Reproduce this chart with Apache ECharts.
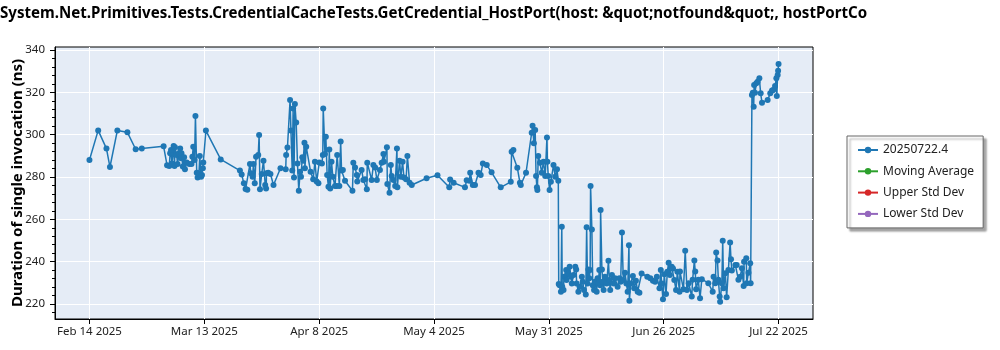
<!DOCTYPE html>
<html>
<head>
<meta charset="utf-8">
<script src="https://cdn.jsdelivr.net/npm/echarts@6/dist/echarts.min.js"></script>
<style>
  html, body { margin: 0; padding: 0; background: #fff; }
  #chart { width: 1000px; height: 350px; }
</style>
</head>
<body>
<div id="chart"></div>
<script>
// ---- data (days since Feb 14 2025, duration in ns) ----
const chartTitle = 'System.Net.Primitives.Tests.CredentialCacheTests.GetCredential_HostPort(host: &quot;notfound&quot;, hostPortCo';
const yAxisTitle = 'Duration of single invocation (ns)';
const seriesNames = ['20250722.4', 'Moving Average', 'Upper Std Dev', 'Lower Std Dev'];

const runDay = [
  0, 2.0, 3.9, 4.7, 6.4, 8.7, 10.6, 12.0, 17.0, 17.8,
  18.3, 18.5, 18.7, 18.9, 19.3, 19.5, 19.6, 20.0, 20.2, 20.5,
  20.8, 21.0, 21.1, 21.4, 21.7, 21.9, 22.3, 22.9, 23.4, 23.6,
  23.8, 24.1, 24.3, 24.6, 24.8, 25.1, 25.3, 25.6, 25.8, 26.0,
  26.1, 26.7, 30.1, 34.5, 34.9, 35.4, 35.8, 36.2,
  36.8, 37.0, 37.4, 37.6, 37.9, 38.2, 38.7, 38.9, 39.1, 39.5,
  39.9, 40.3, 40.5, 40.6, 41.0, 41.5, 42.2, 43.8, 45.0, 45.1,
  45.4, 46.0, 46.2, 46.5, 46.7, 46.9, 47.1, 47.4, 47.7, 48.0,
  48.3, 48.5, 48.8, 49.0, 49.3, 49.4, 49.7, 50.7, 51.3, 51.7,
  52.1, 52.5, 52.7,
  53.3, 53.5, 53.6, 54.0, 54.2, 54.5, 54.8, 55.0, 55.2, 55.5,
  55.8, 56.3, 56.7, 56.8, 57.3, 57.6, 57.8, 58.1, 58.6, 60.3,
  60.5, 60.9, 61.3, 61.4, 62.4, 62.8, 63.2, 63.6, 63.7, 64.7,
  65.1, 65.5, 65.9, 66.6, 67.0, 67.4, 67.5, 68.2, 68.3, 68.8,
  69.1, 69.3, 69.7, 70.1, 70.5, 70.6, 71.1, 71.4, 71.8, 72.1,
  72.6, 72.9, 73.4, 73.9, 77.3, 79.8,
  82.5, 82.7, 83.5, 86.1, 86.5, 87.1, 87.3, 87.9, 88.4, 89.2,
  89.7, 90.2, 91.1, 92.2, 94.3, 96.6, 96.8, 97.2, 98.1, 98.7,
  98.9, 100.1, 101.4, 101.6, 101.9, 102.2, 102.4, 102.6, 102.7, 102.9,
  103.3, 103.7, 104.1, 104.5, 104.9, 105.0, 105.2, 105.5, 105.8, 106.4,
  106.8, 107.2, 107.5,
  107.6, 107.8, 108.1, 108.3, 108.4, 108.7, 108.8, 109.3, 109.4, 109.8,
  110.1, 110.4, 110.6, 111.0, 111.4, 111.6, 111.7, 112.1, 112.5, 112.9,
  113.1, 113.4, 113.8, 114.0, 114.2, 114.4, 114.6, 114.8, 114.9, 115.2,
  115.4, 115.7, 115.9, 116.3, 116.5, 116.7, 116.9, 117.1, 117.2, 117.5,
  117.7, 117.9, 118.2, 118.6, 119.0, 119.2, 119.4, 119.8, 120.2, 120.5,
  121.1, 121.5, 121.8, 122.1, 122.4, 122.8, 123.1, 123.4, 123.7, 123.8,
  124.1, 124.6, 124.9, 125.3, 125.7, 126.1, 126.6, 127.9, 128.6, 129.2,
  129.7, 130.1, 130.7, 131.0, 131.2, 131.5, 131.8, 132.2, 132.5, 132.8,
  133.1, 133.5, 133.8, 134.1, 134.5, 134.8, 135.3,
  135.4, 136.2, 136.6, 137.0, 137.4, 138.1, 138.3, 138.7, 138.9, 139.1,
  139.6, 140.0, 140.4, 141.9, 142.9, 143.1, 143.5, 143.7, 144.0, 144.2,
  144.5, 144.6, 145.0, 145.2, 145.4, 145.8, 146.1, 146.5, 146.9, 147.1,
  147.3, 148.1, 148.4, 148.8, 149.2, 149.6, 150.0, 150.1, 150.6, 150.7,
  151.1, 151.5, 151.6, 151.9, 152.1, 152.3, 152.4, 152.6, 152.9, 153.2,
  153.6, 153.9, 154.2, 155.5, 156.1, 156.5, 156.8, 157.2, 157.5, 157.6,
  157.8, 157.9, 158.0
];

const durationNs = [
  288.0, 302.0, 293.4, 284.7, 302.0, 301.1, 293.1, 293.5, 294.5, 285.5,
  285.2, 291.2, 292.7, 286.4, 294.6, 285.2, 294.0, 290.4, 286.1, 291.2,
  293.5, 288.8, 291.2, 284.9, 289.3, 283.6, 286.8, 286.1, 286.1, 289.6,
  294.3, 288.0, 308.8, 282.0, 279.8, 281.7, 289.9, 280.1, 280.9, 284.1,
  286.8, 301.9, 288.3, 283.0, 281.2, 277.0, 274.3, 274.0,
  286.1, 281.7, 280.1, 286.1, 277.0, 289.6, 290.4, 299.8, 274.2, 281.4,
  287.7, 276.2, 274.6, 281.7, 282.0, 281.4, 276.2, 284.1, 283.6, 290.4,
  293.9, 316.4, 301.9, 283.0, 312.4, 279.8, 314.5, 305.7, 286.4, 273.5,
  282.5, 280.1, 289.3, 287.7, 296.2, 284.1, 294.3, 282.5, 278.9, 287.2,
  277.8, 277.0, 286.8,
  286.4, 290.4, 312.4, 290.8, 299.0, 280.9, 275.4, 293.0, 274.6, 287.2,
  280.1, 275.7, 275.7, 290.4, 275.7, 296.7, 283.0, 283.3, 278.2, 273.5,
  286.7, 284.5, 280.9, 277.8, 283.3, 278.6, 278.9, 274.2, 286.7, 278.6,
  285.6, 284.5, 278.6, 283.3, 286.7, 290.8, 287.2, 294.0, 276.7, 272.6,
  285.6, 280.5, 278.6, 275.7, 293.5, 275.1, 287.7, 280.1, 287.2, 279.8,
  278.9, 289.9, 277.3, 276.2, 279.4, 280.8,
  275.1, 278.8, 277.3, 275.1, 278.5, 278.2, 282.0, 276.2, 276.2, 282.0,
  280.9, 286.4, 285.6, 282.2, 275.1, 277.7, 291.9, 292.7, 284.4, 277.3,
  276.2, 282.0, 300.9, 304.2, 295.9, 302.2, 280.4, 275.1, 273.8, 289.9,
  286.7, 282.0, 287.2, 280.4, 298.7, 287.2, 280.4, 273.8, 277.7, 285.6,
  280.1, 283.6, 278.2,
  229.4, 228.9, 225.8, 256.5, 228.1, 226.6, 232.9, 236.0, 231.3, 234.4,
  237.6, 232.9, 229.7, 233.7, 237.6, 236.3, 229.7, 225.8, 228.1, 232.9,
  230.5, 226.6, 224.5, 256.2, 229.7, 236.3, 232.1, 236.0, 275.7, 255.2,
  228.9, 226.6, 230.5, 225.8, 232.1, 229.7, 236.0, 228.9, 264.4, 236.3,
  230.5, 226.6, 232.9, 229.7, 240.4, 231.3, 226.6, 233.7, 229.7, 232.1,
  228.1, 232.1, 230.5, 253.8, 231.3, 234.8, 229.7, 225.8, 247.8, 221.5,
  229.7, 233.2, 227.4, 231.0, 225.8, 225.3, 234.4, 232.9, 232.1, 231.0,
  230.5, 232.9, 227.4, 236.0, 229.7, 222.2, 234.1, 224.7, 235.2, 239.5,
  233.7, 237.6, 236.8, 231.3, 226.6, 235.2, 225.8,
  235.3, 226.9, 245.2, 226.6, 229.8, 223.5, 231.4, 240.5, 235.3, 226.9,
  231.4, 222.7, 231.7, 229.8, 225.8, 232.9, 229.8, 244.3, 240.5, 231.4,
  223.5, 221.1, 229.8, 249.9, 227.4, 234.5, 223.2, 236.1, 249.0, 241.1,
  235.8, 238.4, 238.4, 231.4, 232.9, 236.9, 228.5, 240.0, 241.6, 229.8,
  234.8, 239.2, 229.8, 318.7, 319.8, 313.2, 323.5, 319.8, 324.3, 325.0,
  326.6, 319.5, 315.1, 316.4, 319.5, 320.8, 321.1, 323.0, 326.6, 318.3,
  328.2, 330.2, 333.4
];

// ---- axis ticks ----
const xTickDays = [0, 26.333, 52.667, 79, 105.333, 131.667, 158];
const xTickLabels = ['Feb 14 2025', 'Mar 13 2025', 'Apr 8 2025', 'May 4 2025', 'May 31 2025', 'Jun 26 2025', 'Jul 22 2025'];
const yMajorTicks = [220, 240, 260, 280, 300, 320, 340];
const yMinorTicks = [216, 224, 228, 232, 236, 244, 248, 252, 256, 264, 268, 272, 276, 284, 288, 292, 296, 304, 308, 312, 316, 324, 328, 332, 336];

const FONT = 'Noto Sans';
const X_MIN = -7.9, X_MAX = 165.9;
const Y_MIN = 212.9, Y_MAX = 341.4;

const chart = echarts.init(document.getElementById('chart'), null, { renderer: 'canvas' });

const points = runDay.map((d, i) => [d, durationNs[i]]);

chart.setOption({
  animation: false,
  backgroundColor: '#ffffff',
  title: {
    text: chartTitle,
    left: 0,
    top: 6,
    padding: 0,
    textStyle: { fontFamily: FONT, fontSize: 15.1, fontWeight: 'bold', color: '#000' }
  },
  legend: {
    orient: 'vertical',
    left: 847,
    top: 136,
    padding: [8, 9, 8, 10],
    itemGap: 9.3,
    itemWidth: 20,
    itemHeight: 8,
    backgroundColor: '#ffffff',
    borderColor: '#666',
    borderWidth: 1,
    borderRadius: 0,
    shadowColor: 'rgba(0,0,0,0.35)',
    shadowBlur: 2,
    shadowOffsetX: 3,
    shadowOffsetY: 3,
    data: seriesNames,
    textStyle: { fontFamily: FONT, fontSize: 12, color: '#222' }
  },
  grid: {
    left: 55, right: 187, top: 47, bottom: 31,
    outerBoundsMode: 'none',
    containLabel: false,
    show: true,
    backgroundColor: '#e5ecf6',
    borderColor: '#000',
    borderWidth: 1
  },
  xAxis: {
    type: 'value',
    min: X_MIN,
    max: X_MAX,
    axisLine: { show: true, onZero: false, lineStyle: { color: '#000', width: 1 } },
    axisTick: { show: true, customValues: xTickDays, length: 5, lineStyle: { color: '#000' } },
    axisLabel: {
      customValues: xTickDays,
      margin: 7,
      fontFamily: FONT, fontSize: 11.5, color: '#222',
      formatter: function (v) {
        for (let i = 0; i < xTickDays.length; i++) {
          if (Math.abs(v - xTickDays[i]) < 0.01) return xTickLabels[i];
        }
        return '';
      }
    },
    splitLine: { show: true, lineStyle: { color: '#ffffff', width: 1 } }
  },
  yAxis: [
    {
      type: 'value',
      min: Y_MIN,
      max: Y_MAX,
      name: yAxisTitle,
      nameLocation: 'middle',
      nameGap: 30,
      nameMoveOverlap: false,
      nameTextStyle: { fontFamily: FONT, fontSize: 15, fontWeight: 'bold', color: '#000' },
      axisLine: { show: true, onZero: false, lineStyle: { color: '#000', width: 1 } },
      axisTick: { show: true, customValues: yMajorTicks, length: 5, lineStyle: { color: '#000' } },
      axisLabel: {
        customValues: yMajorTicks,
        margin: 10,
        fontFamily: FONT, fontSize: 11.5, color: '#222'
      },
      splitLine: { show: true, lineStyle: { color: '#ffffff', width: 1 } }
    },
    {
      type: 'value',
      position: 'left',
      min: Y_MIN,
      max: Y_MAX,
      axisLine: { show: false, onZero: false },
      axisTick: { show: true, customValues: yMinorTicks, length: 3, lineStyle: { color: '#000' } },
      axisLabel: { show: false },
      splitLine: { show: false }
    }
  ],
  series: [
    {
      name: seriesNames[0],
      type: 'line',
      data: points,
      yAxisIndex: 0,
      symbol: 'circle',
      symbolSize: 6,
      showAllSymbol: true,
      color: '#1f77b4',
      lineStyle: { color: '#1f77b4', width: 1.5 },
      itemStyle: { color: '#1f77b4' },
      z: 3
    },
    { name: seriesNames[1], type: 'line', data: [], symbol: 'circle', symbolSize: 5, color: '#2ca02c', lineStyle: { color: '#2ca02c', width: 1.5 }, itemStyle: { color: '#2ca02c' } },
    { name: seriesNames[2], type: 'line', data: [], symbol: 'circle', symbolSize: 5, color: '#d62728', lineStyle: { color: '#d62728', width: 1.5 }, itemStyle: { color: '#d62728' } },
    { name: seriesNames[3], type: 'line', data: [], symbol: 'circle', symbolSize: 5, color: '#9467bd', lineStyle: { color: '#9467bd', width: 1.5 }, itemStyle: { color: '#9467bd' } }
  ]
});
</script>
</body>
</html>
